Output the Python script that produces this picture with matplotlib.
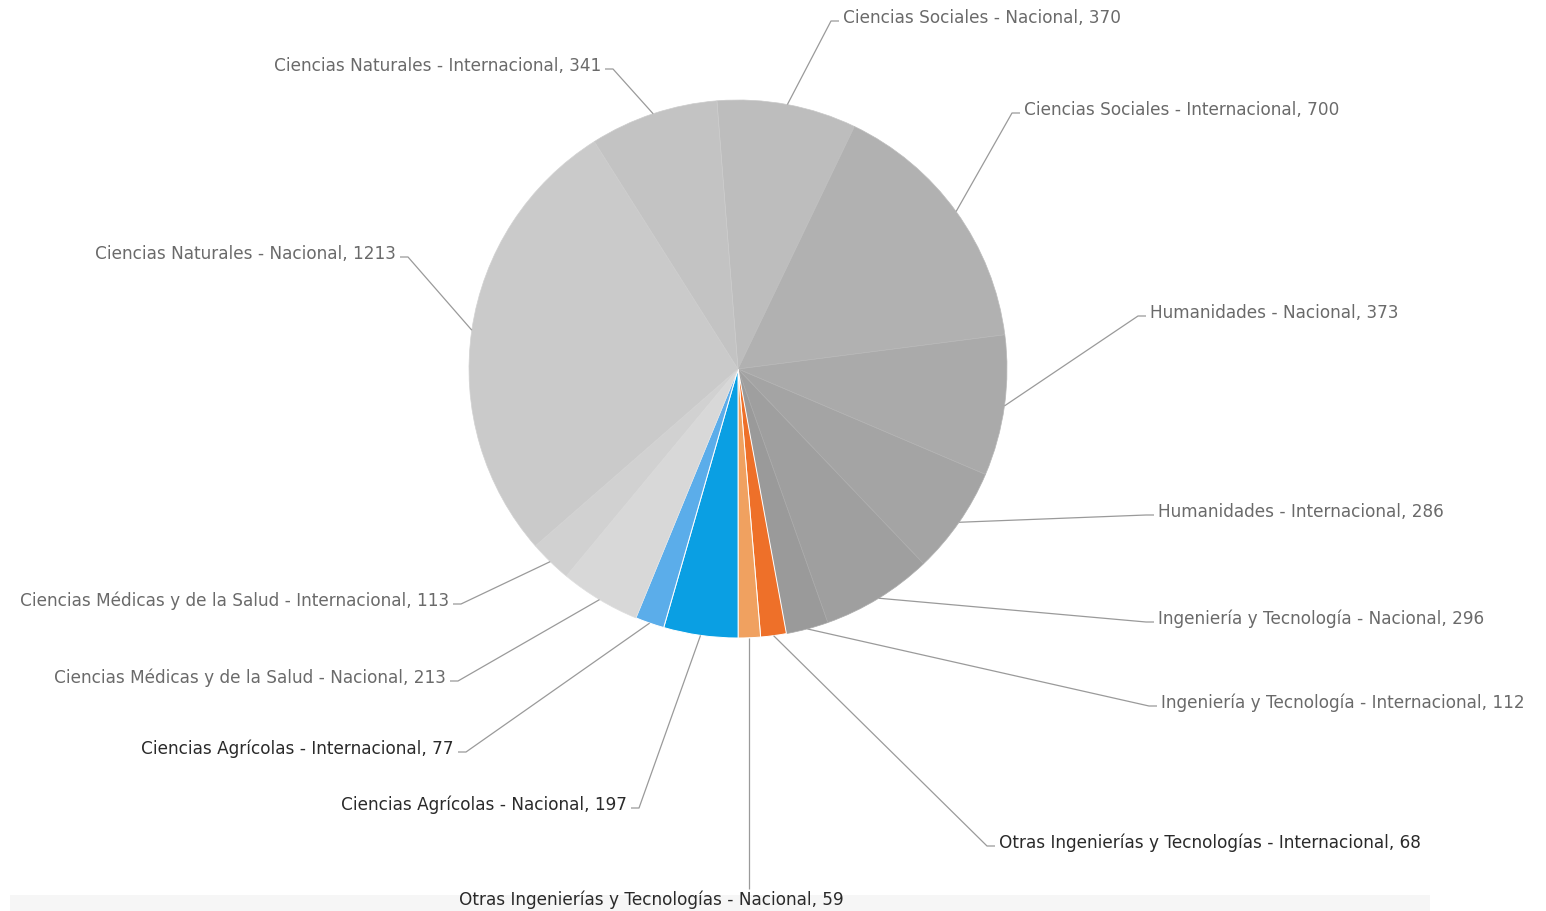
import matplotlib
matplotlib.use("Agg")
import matplotlib.pyplot as plt
import numpy as np
from matplotlib.colors import to_rgb
from matplotlib.patches import Rectangle

# Publications by field and scope
categories = [
    "Ciencias Sociales - Nacional",
    "Ciencias Sociales - Internacional",
    "Humanidades - Nacional",
    "Humanidades - Internacional",
    "Ingeniería y Tecnología - Nacional",
    "Ingeniería y Tecnología - Internacional",
    "Otras Ingenierías y Tecnologías - Internacional",
    "Otras Ingenierías y Tecnologías - Nacional",
    "Ciencias Agrícolas - Nacional",
    "Ciencias Agrícolas - Internacional",
    "Ciencias Médicas y de la Salud - Nacional",
    "Ciencias Médicas y de la Salud - Internacional",
    "Ciencias Naturales - Nacional",
    "Ciencias Naturales - Internacional",
]
values = [370, 700, 373, 286, 296, 112, 68, 59, 197, 77, 213, 113, 1213, 341]
highlighted = [False, False, False, False, False, False, True, True, True, True,
               False, False, False, False]

slice_colors = [
    "#bdbdbd", "#b1b1b1", "#aaaaaa", "#a4a4a4", "#9f9f9f", "#9a9a9a",
    "#ee7029", "#f0a160", "#0a9fe3", "#5badea",
    "#d8d8d8", "#d1d1d1", "#cacaca", "#c3c3c3",
]

# label anchors in pixel coordinates (x, y from top, alignment)
label_layout = [
    (843, 18, "left"),
    (1024, 110, "left"),
    (1150, 313, "left"),
    (1158, 512, "left"),
    (1158, 619, "left"),
    (1161, 703, "left"),
    (999, 843, "left"),
    (651, 900, "center"),
    (627, 805, "right"),
    (454, 749, "right"),
    (446, 678, "right"),
    (449, 601, "right"),
    (396, 254, "right"),
    (601, 66, "right"),
]

W, H = 1546, 912
fig = plt.figure(figsize=(W / 100, H / 100), dpi=100)
fig.patch.set_facecolor("white")
ax = fig.add_axes([0, 0, 1, 1])

cx, cy, r = 738, H - 370, 269
wedges, _ = ax.pie(values, colors=slice_colors, startangle=94.5, counterclock=False,
                   center=(cx, cy), radius=r, frame=True,
                   wedgeprops=dict(linewidth=0.6))
ax.set_xlim(0, W)
ax.set_ylim(0, H)
ax.set_aspect("equal")
ax.axis("off")

# white separators on the coloured slices, faint ones on the muted grey slices
for w, hl, c in zip(wedges, highlighted, slice_colors):
    if hl:
        w.set_edgecolor("white")
        w.set_linewidth(0.7)
    else:
        rgb = np.array(to_rgb(c))
        w.set_edgecolor(tuple(rgb + (1 - rgb) * 0.15))
        w.set_linewidth(0.5)

# faint footer strip
ax.add_patch(Rectangle((10, 0), 1420, 16, facecolor="#f6f6f6", edgecolor="none", zorder=0))

line_color = "#9a9a9a"
for w, cat, val, hl, (lx, ly, ha) in zip(wedges, categories, values, highlighted, label_layout):
    mid = np.deg2rad((w.theta1 + w.theta2) / 2)
    ex, ey = cx + r * np.cos(mid), cy + r * np.sin(mid)
    ty = H - ly
    if ha == "left":
        xs = [ex, lx - 12, lx - 4]
        ys = [ey, ty - 4, ty - 4]
    elif ha == "right":
        xs = [ex, lx + 12, lx + 4]
        ys = [ey, ty - 4, ty - 4]
    else:
        xs = [ex, ex]
        ys = [ey, ty + 10]
    ax.plot(xs, ys, color=line_color, lw=0.9, solid_capstyle="butt", zorder=3)
    ax.text(lx, ty, f"{cat}, {val}", ha=ha, va="center", fontsize=12.2,
            family="DejaVu Sans", color="#2a2a2a" if hl else "#6a6a6a", zorder=4)

fig.savefig("out.png", dpi=100, facecolor="white")
